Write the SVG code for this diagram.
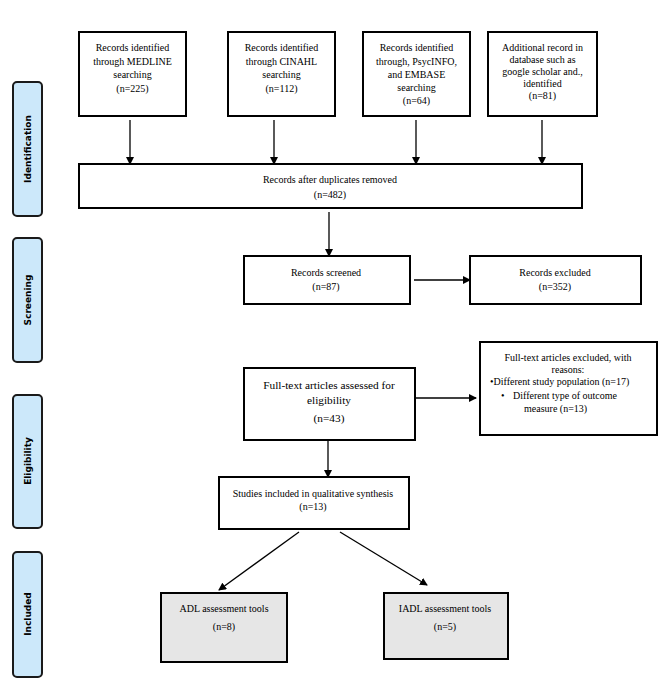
<svg xmlns="http://www.w3.org/2000/svg" width="666" height="681" viewBox="0 0 666 681">
<style>
.box{fill:#fff;stroke:#000;stroke-width:2}
.gbox{fill:#e6e6e6;stroke:#000;stroke-width:2}
.side{fill:#cce8fa;stroke:#1a1a1a;stroke-width:2}
.t{font-family:"Liberation Serif","Times New Roman",serif;font-size:10px;fill:#000;text-anchor:middle}
.tl{font-family:"Liberation Serif","Times New Roman",serif;font-size:10px;fill:#000}
.s{font-family:"DejaVu Sans",Verdana,sans-serif;font-size:9px;font-weight:bold;fill:#000;text-anchor:middle}
.c{stroke:#000;stroke-width:1.3;fill:none;marker-end:url(#ah)}
</style>
<defs>
<marker id="ah" markerWidth="8" markerHeight="8" refX="7" refY="4" orient="auto" markerUnits="userSpaceOnUse">
<path d="M0,0 L8,4 L0,8 Z" fill="#000"/>
</marker>
</defs>
<rect width="666" height="681" fill="#fff"/>

<g id="side-identification"><rect class="side" x="13" y="82" width="29" height="134" rx="4"/><text class="s" transform="translate(31,149) rotate(-90)">Identification</text></g>
<g id="side-screening"><rect class="side" x="13" y="238" width="29" height="124" rx="4"/><text class="s" transform="translate(31,300) rotate(-90)">Screening</text></g>
<g id="side-eligibility"><rect class="side" x="13" y="395" width="29" height="133" rx="4"/><text class="s" transform="translate(31,461) rotate(-90)">Eligibility</text></g>
<g id="side-included"><rect class="side" x="13" y="552" width="29" height="125" rx="4"/><text class="s" transform="translate(31,614) rotate(-90)">Included</text></g>

<g id="medline"><rect class="box" x="79" y="32" width="107" height="84"/>
<text class="t" x="132.5" y="51">Records identified</text>
<text class="t" x="132.5" y="64.5">through MEDLINE</text>
<text class="t" x="132.5" y="78">searching</text>
<text class="t" x="132.5" y="91.5">(n=225)</text></g>

<g id="cinahl"><rect class="box" x="228" y="32" width="107" height="84"/>
<text class="t" x="281.5" y="51">Records identified</text>
<text class="t" x="281.5" y="64.5">through CINAHL</text>
<text class="t" x="281.5" y="78">searching</text>
<text class="t" x="281.5" y="91.5">(n=112)</text></g>

<g id="psycinfo"><rect class="box" x="363" y="32" width="107" height="84"/>
<text class="t" x="416.5" y="51">Records identified</text>
<text class="t" x="416.5" y="64.5">through, PsycINFO,</text>
<text class="t" x="416.5" y="78">and EMBASE</text>
<text class="t" x="416.5" y="91">searching</text>
<text class="t" x="416.5" y="104">(n=64)</text></g>

<g id="additional"><rect class="box" x="488" y="32" width="109" height="84"/>
<text class="t" x="542.5" y="51">Additional record in</text>
<text class="t" x="542.5" y="63">database such as</text>
<text class="t" x="542.5" y="75">google scholar and.,</text>
<text class="t" x="542.5" y="86.5">identified</text>
<text class="t" x="542.5" y="98.5">(n=81)</text></g>

<g id="duplicates"><rect class="box" x="79" y="164" width="503" height="44"/>
<text class="t" x="330" y="183">Records after duplicates removed</text>
<text class="t" x="330" y="197.5">(n=482)</text></g>

<g id="screened"><rect class="box" x="244" y="256" width="166" height="48"/>
<text class="t" x="326" y="275.5">Records screened</text>
<text class="t" x="326" y="290">(n=87)</text></g>

<g id="excluded"><rect class="box" x="470" y="256" width="171" height="48"/>
<text class="t" x="555" y="275.5">Records excluded</text>
<text class="t" x="555" y="290">(n=352)</text></g>

<g id="fulltext"><rect class="box" x="244" y="368" width="171" height="72"/>
<text class="t" style="font-size:11.3px" x="329" y="389">Full-text articles assessed for</text>
<text class="t" style="font-size:11.3px" x="329" y="404">eligibility</text>
<text class="t" style="font-size:11.3px" x="329" y="422">(n=43)</text></g>

<g id="ft-excluded"><rect class="box" x="480" y="342" width="177" height="93"/>
<text class="t" x="568" y="361">Full-text articles excluded, with</text>
<text class="t" x="568" y="372.5">reasons:</text>
<text class="tl" x="490" y="385">•Different study population (n=17)</text>
<text class="tl" x="501" y="399">•</text>
<text class="tl" x="513" y="399">Different type of outcome</text>
<text class="tl" x="524" y="412">measure (n=13)</text></g>

<g id="studies"><rect class="box" x="219" y="477" width="190" height="52"/>
<text class="t" x="313" y="497">Studies included in qualitative synthesis</text>
<text class="t" x="313" y="510">(n=13)</text></g>

<g id="adl"><rect class="gbox" x="161" y="593" width="126" height="69"/>
<text class="t" x="224" y="611.5">ADL assessment tools</text>
<text class="t" x="224" y="630">(n=8)</text></g>

<g id="iadl"><rect class="gbox" x="384" y="593" width="124" height="66"/>
<text class="t" x="445" y="611.5">IADL assessment tools</text>
<text class="t" x="445" y="630">(n=5)</text></g>

<g id="connectors">
<line class="c" x1="130" y1="120" x2="130" y2="164"/>
<line class="c" x1="274" y1="120" x2="274" y2="164"/>
<line class="c" x1="416" y1="120" x2="416" y2="164"/>
<line class="c" x1="542" y1="120" x2="542" y2="164"/>
<line class="c" x1="329" y1="212" x2="329" y2="256"/>
<line class="c" x1="414" y1="280" x2="470" y2="280"/>
<line class="c" x1="415" y1="398" x2="476" y2="398"/>
<line class="c" x1="328" y1="440" x2="328" y2="477"/>
<line class="c" x1="299" y1="532" x2="219" y2="590"/>
<line class="c" x1="340" y1="532" x2="427" y2="585"/>
</g>
</svg>
